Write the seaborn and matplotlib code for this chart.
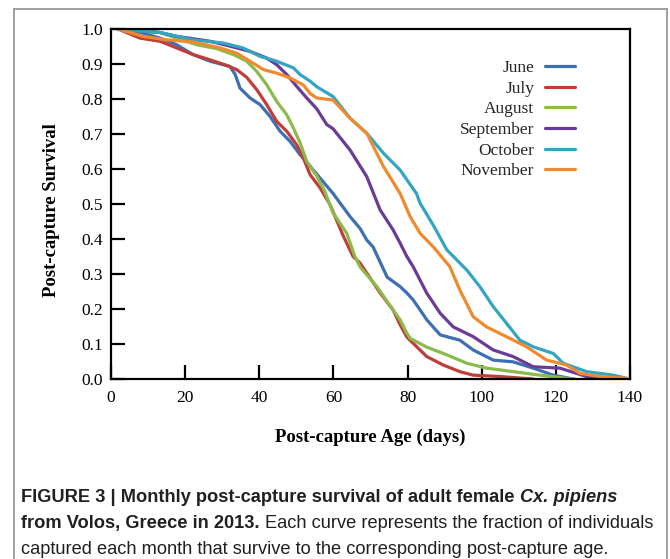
import numpy as np
import pandas as pd
import matplotlib
matplotlib.use("Agg")
import matplotlib.pyplot as plt
import seaborn as sns
from matplotlib.lines import Line2D
from matplotlib import font_manager as fm

# ---------------- data ----------------
months = ["June", "July", "August", "September", "October", "November"]
colors = ["#3d6fb3", "#c03e39", "#8bbb4b", "#6a3b97", "#33a5c3", "#f08a2f"]

june_days = [1.9, 8.0, 13.2, 17.7, 22.1, 26.7, 32.1, 33.5, 34.8, 37.5, 40.2, 42.9, 45.6, 48.3,
             51.0, 53.7, 56.4, 59.9, 64.5, 67.2, 69.0, 70.7, 74.5, 78.0, 79.8, 81.5, 83.4,
             85.2, 88.8, 94.1, 97.7, 103.1, 108.5, 113.9, 119.3, 124.7]
june_surv = [1.0, 0.99, 0.974, 0.955, 0.927, 0.908, 0.893, 0.87, 0.831, 0.803, 0.784, 0.75, 0.708,
             0.679, 0.641, 0.608, 0.574, 0.53, 0.464, 0.43, 0.397, 0.377, 0.291, 0.264, 0.246,
             0.226, 0.197, 0.169, 0.126, 0.111, 0.083, 0.054, 0.049, 0.031, 0.011, 0.0]

july_days = [1.9, 7.8, 13.2, 17.7, 22.1, 26.7, 31.2, 33.9, 36.6, 39.3, 42.0, 44.7, 47.4, 50.1,
             51.9, 53.7, 56.4, 59.1, 62.6, 65.3, 67.2, 72.6, 76.1, 78.0, 79.8, 81.5, 85.2,
             89.6, 94.1, 97.7, 104.9, 113.9]
july_surv = [1.0, 0.974, 0.965, 0.946, 0.927, 0.912, 0.896, 0.884, 0.862, 0.827, 0.784, 0.736,
             0.708, 0.669, 0.631, 0.584, 0.546, 0.498, 0.41, 0.35, 0.331, 0.246, 0.197, 0.155,
             0.12, 0.102, 0.064, 0.04, 0.021, 0.011, 0.007, 0.0]

august_days = [1.9, 13.2, 17.7, 23.1, 28.5, 33.0, 36.6, 39.3, 42.0, 44.7, 47.4, 49.2, 51.0, 52.8,
               55.5, 57.5, 59.9, 63.6, 65.8, 67.2, 71.8, 76.1, 78.0, 79.8, 80.7, 85.2, 90.6,
               96.0, 101.3, 108.5, 115.7, 122.9, 125.0]
august_surv = [1.0, 0.99, 0.974, 0.955, 0.944, 0.927, 0.908, 0.879, 0.841, 0.793, 0.755, 0.717,
               0.675, 0.622, 0.58, 0.54, 0.475, 0.416, 0.35, 0.32, 0.263, 0.197, 0.169, 0.131,
               0.116, 0.091, 0.069, 0.045, 0.031, 0.021, 0.011, 0.002, 0.0]

september_days = [1.9, 13.2, 17.7, 26.7, 32.1, 37.5, 42.0, 44.7, 47.4, 50.1, 52.8, 55.5, 58.2,
                  59.9, 64.5, 69.0, 72.6, 76.1, 78.0, 79.8, 81.5, 85.2, 88.8, 92.3, 97.7, 103.1,
                  108.5, 113.9, 121.1, 128.3, 131.9]
september_surv = [1.0, 0.99, 0.979, 0.965, 0.951, 0.936, 0.917, 0.898, 0.87, 0.836, 0.803, 0.772,
                  0.727, 0.715, 0.654, 0.578, 0.483, 0.426, 0.388, 0.35, 0.321, 0.245, 0.188,
                  0.149, 0.121, 0.083, 0.064, 0.035, 0.031, 0.007, 0.0]

october_days = [1.9, 13.2, 22.1, 30.2, 35.6, 40.2, 44.7, 49.2, 51.0, 53.7, 55.5, 59.9, 64.5, 69.0,
                73.5, 78.0, 82.4, 83.4, 86.9, 90.6, 96.0, 99.5, 103.1, 106.7, 110.3, 113.9,
                119.3, 122.0, 128.3, 135.5, 139.1]
october_surv = [1.0, 0.99, 0.969, 0.96, 0.946, 0.922, 0.908, 0.889, 0.87, 0.851, 0.835, 0.807,
                0.745, 0.702, 0.645, 0.597, 0.53, 0.502, 0.44, 0.369, 0.311, 0.264, 0.207, 0.159,
                0.111, 0.092, 0.073, 0.045, 0.021, 0.011, 0.002]

november_days = [1.9, 8.6, 15.0, 22.1, 29.4, 33.9, 37.5, 41.1, 44.7, 48.3, 51.9, 53.7, 55.5,
                 59.9, 64.5, 69.0, 73.5, 78.0, 80.7, 83.4, 86.9, 91.4, 94.1, 97.7, 101.3, 104.9,
                 107.6, 112.1, 117.5, 122.9, 126.5, 131.9, 139.1]
november_surv = [1.0, 0.979, 0.969, 0.963, 0.946, 0.931, 0.908, 0.884, 0.874, 0.86, 0.84, 0.816,
                 0.803, 0.797, 0.745, 0.702, 0.607, 0.53, 0.464, 0.416, 0.378, 0.321, 0.254,
                 0.178, 0.149, 0.13, 0.116, 0.092, 0.054, 0.04, 0.016, 0.007, 0.002]

x_ticks = [0, 20, 40, 60, 80, 100, 120, 140]
y_ticks = [0.0, 0.1, 0.2, 0.3, 0.4, 0.5, 0.6, 0.7, 0.8, 0.9, 1.0]

caption_lines = [
    [("FIGURE 3 | Monthly post-capture survival of adult female", "bold", "normal"),
     ("Cx. pipiens", "bold", "italic")],
    [("from Volos, Greece in 2013.", "bold", "normal"),
     ("Each curve represents the fraction of individuals", "normal", "normal")],
    [("captured each month that survive to the corresponding post-capture age.", "normal", "normal")],
]

# ---------------- build table ----------------
series = {
    "June": (june_days, june_surv),
    "July": (july_days, july_surv),
    "August": (august_days, august_surv),
    "September": (september_days, september_surv),
    "October": (october_days, october_surv),
    "November": (november_days, november_surv),
}
frames = []
for m in months:
    d, s = series[m]
    frames.append(pd.DataFrame({"day": d, "survival": s, "month": m}))
df = pd.concat(frames, ignore_index=True)

# ---------------- style ----------------
sns.set_theme(style="white")
serif = "Liberation Serif"
plt.rcParams["font.family"] = [serif, "DejaVu Serif"]

names = {f.name for f in fm.fontManager.ttflist}
cap_font = "Liberation Sans Narrow" if "Liberation Sans Narrow" in names else "Liberation Sans"

W, H = 670, 559
fig = plt.figure(figsize=(W / 100, H / 100), dpi=100)
fig.patch.set_facecolor("white")

ax = fig.add_axes([111 / W, 1 - 379 / H, 519 / W, 350 / H])
sns.lineplot(data=df, x="day", y="survival", hue="month", hue_order=months,
             palette=dict(zip(months, colors)), estimator=None, linewidth=2.3,
             legend=False, ax=ax)

ax.set_xlim(0, 140)
ax.set_ylim(0, 1.0)
ax.set_xticks(x_ticks)
ax.set_yticks(y_ticks)
ax.set_xticklabels([str(t) for t in x_ticks])
ax.set_yticklabels([f"{t:.1f}" for t in y_ticks])
ax.tick_params(axis="both", direction="in", length=10, width=1.6, color="black",
               labelsize=12.5, labelcolor="black")
ax.tick_params(axis="x", pad=8, bottom=True, top=False)
ax.tick_params(axis="y", pad=6, left=True, right=False)
for sp in ax.spines.values():
    sp.set_visible(True)
    sp.set_color("black")
    sp.set_linewidth(1.6)

ax.set_xlabel("Post-capture Age (days)", fontsize=13.5, fontweight="bold", color="black")
ax.set_ylabel("Post-capture Survival", fontsize=13.5, fontweight="bold", color="black")
ax.xaxis.set_label_coords((370 - 111) / 519, (379 - 429) / 350)
ax.yaxis.set_label_coords((60 - 111) / 519, (379 - 210) / 350)

handles = [Line2D([0], [0], color=c, lw=2.3) for c in colors]
leg = ax.legend(handles, months, loc="upper right", bbox_to_anchor=((575 - 111) / 519, (379 - 60) / 350),
                frameon=False, markerfirst=False, handlelength=1.75, handletextpad=0.6,
                labelspacing=0.26, borderpad=0, borderaxespad=0,
                prop={"family": serif, "size": 12.5})

# ---------------- outer frame ----------------
fc = "#9a9a9a"
fig.add_artist(Line2D([14 / W, 14 / W], [0, 1 - 9 / H], transform=fig.transFigure, color=fc, lw=1.3))
fig.add_artist(Line2D([14 / W, 667 / W], [1 - 9 / H, 1 - 9 / H], transform=fig.transFigure, color=fc, lw=1.3))
fig.add_artist(Line2D([667 / W, 667 / W], [0, 1 - 9 / H], transform=fig.transFigure, color=fc, lw=1.3))

# ---------------- caption ----------------
renderer = fig.canvas.get_renderer()


def width_of(txt, size, weight, style):
    t = fig.text(0, 0, txt, fontsize=size, fontweight=weight, fontstyle=style, family=cap_font)
    w = t.get_window_extent(renderer).width
    t.remove()
    return w


def line_width(segs, size):
    sp = width_of("a a", size, "normal", "normal") - width_of("aa", size, "normal", "normal")
    total = sum(width_of(s, size, w, st) for s, w, st in segs)
    return total + sp * (len(segs) - 1)


base = 12.0
target = 633.0
size = base * target / line_width(caption_lines[1], base)

baselines = [502, 528, 554]
cap_color = "#231f20"
for segs, yb in zip(caption_lines, baselines):
    x = 21.0
    sp = width_of("a a", size, "normal", "normal") - width_of("aa", size, "normal", "normal")
    for s, w, st in segs:
        t = fig.text(x / W, 1 - yb / H, s, fontsize=size, fontweight=w, fontstyle=st,
                     family=cap_font, color=cap_color, ha="left", va="baseline")
        x += t.get_window_extent(renderer).width + sp

fig.savefig("out.png", dpi=100, facecolor="white")
